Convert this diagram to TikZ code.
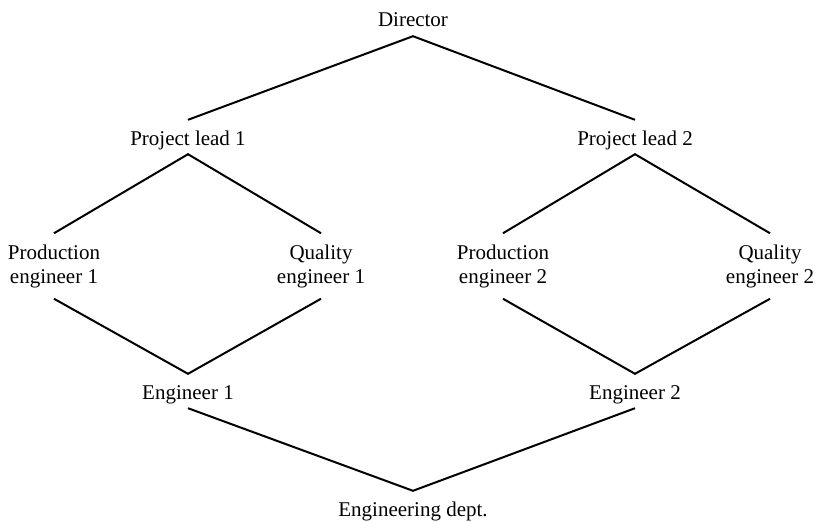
\documentclass[tikz,border=0pt]{standalone}
\usepackage{fontspec}
\setmainfont{Liberation Serif}
\begin{document}
\begin{tikzpicture}[x=1pt,y=-1pt,
  lbl/.style={font=\fontsize{21}{24}\selectfont, inner xsep=0pt, inner ysep=5pt, text height=20pt, text depth=4pt},
  lbl2/.style={font=\fontsize{21}{24}\selectfont, align=center, inner xsep=0pt, inner ysep=11pt},
  conn/.style={line width=2pt, line join=miter}]
\useasboundingbox (0,0) rectangle (815,522);
\node[lbl] (dir) at (413,19) {Director};
\node[lbl] (pl1) at (188,137) {Project lead 1};
\node[lbl] (pl2) at (635,137) {Project lead 2};
\node[lbl2] (pe1) at (54,266) {Production\\engineer 1};
\node[lbl2] (qe1) at (321,266) {Quality\\engineer 1};
\node[lbl2] (pe2) at (503,266) {Production\\engineer 2};
\node[lbl2] (qe2) at (770,266) {Quality\\engineer 2};
\node[lbl] (en1) at (188,391) {Engineer 1};
\node[lbl] (en2) at (635,391) {Engineer 2};
\node[lbl] (dept) at (413,508) {Engineering dept.};
\draw[conn] (pl1.north) -- (dir.south) -- (pl2.north);
\draw[conn] (pe1.north) -- (pl1.south) -- (qe1.north);
\draw[conn] (pe2.north) -- (pl2.south) -- (qe2.north);
\draw[conn] (pe1.south) -- (en1.north) -- (qe1.south);
\draw[conn] (pe2.south) -- (en2.north) -- (qe2.south);
\draw[conn] (en1.south) -- (dept.north) -- (en2.south);
\end{tikzpicture}
\end{document}
